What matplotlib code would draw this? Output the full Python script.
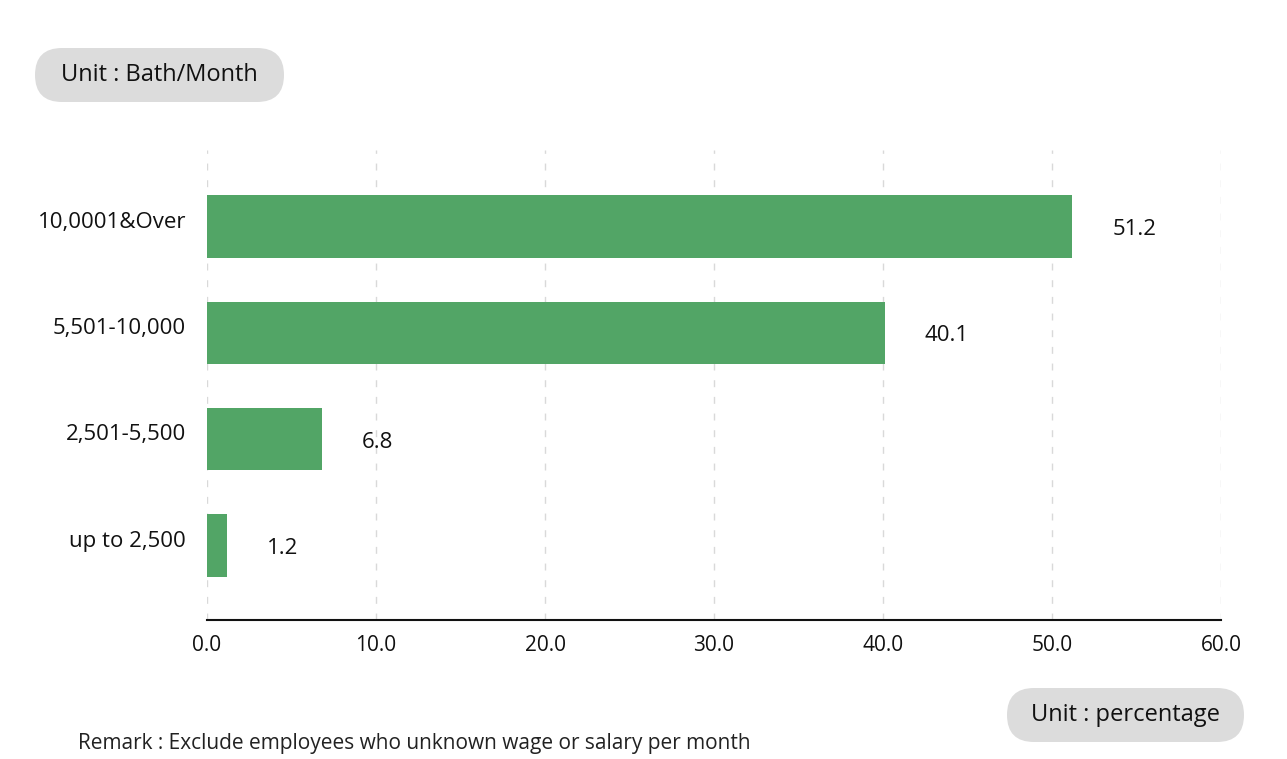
import matplotlib
matplotlib.use("Agg")
import matplotlib.pyplot as plt
import matplotlib.transforms as mtransforms
from matplotlib.patches import FancyBboxPatch

categories = ["up to 2,500", "2,501-5,500", "5,501-10,000", "10,0001&Over"]
values = [1.2, 6.8, 40.1, 51.2]
xticks = [0, 10, 20, 30, 40, 50, 60]
xtick_labels = ["0.0", "10.0", "20.0", "30.0", "40.0", "50.0", "60.0"]

plt.rcParams['font.family'] = ['Open Sans', 'DejaVu Sans']

W, H = 1287, 759
fig = plt.figure(figsize=(W / 100, H / 100), dpi=100)
ax = fig.add_axes([207 / W, 1 - 620 / H, (1221 - 207) / W, (620 - 150) / H])

y = list(range(len(categories)))
ax.barh(y, values, height=0.585, color="#52a566", zorder=3)
ax.set_xlim(0, 60)
ax.set_ylim(-0.70, 3.72)
ax.set_xticks(xticks)
ax.set_xticklabels(xtick_labels, fontsize=15, color="#111111")
ax.set_yticks(y)
ax.set_yticklabels(categories, fontsize=16, color="#111111")
ax.tick_params(axis='both', length=0)
ax.tick_params(axis='x', pad=11)
ax.tick_params(axis='y', pad=15)

# category labels sit slightly above the bar centres in the reference
shift = mtransforms.ScaledTranslation(0, 7 / 100, fig.dpi_scale_trans)
for lbl in ax.get_yticklabels():
    lbl.set_transform(lbl.get_transform() + shift)

for s in ["top", "right", "left"]:
    ax.spines[s].set_visible(False)
ax.spines["bottom"].set_color("#111111")
ax.spines["bottom"].set_linewidth(1.5)

ax.grid(axis='x', linestyle=(0, (5, 7)), color="#d9d9d9", linewidth=1.0, zorder=0)
ax.grid(axis='y', visible=False)

for yi, v in zip(y, values):
    ax.annotate(f"{v:.1f}", xy=(v, yi), xytext=(40, -3), textcoords="offset pixels",
                ha="left", va="center", fontsize=16, color="#111111")

# unit boxes (pixel-based geometry converted to inches)
def pill(x0, y_top, w, h, text):
    p = FancyBboxPatch((x0 / 100, (H - y_top - h) / 100), w / 100, h / 100,
                       boxstyle="round,pad=0,rounding_size=%f" % (h / 200),
                       transform=fig.dpi_scale_trans, facecolor="#dcdcdc", edgecolor="none")
    fig.patches.append(p)
    fig.text((x0 + w / 2) / W, 1 - (y_top + h / 2) / H, text, ha="center", va="center",
             fontsize=17, color="#111111")

pill(35, 48, 249, 54, "Unit : Bath/Month")
pill(1007, 688, 237, 54, "Unit : percentage")

fig.text(78 / W, 1 - 744 / H, "Remark : Exclude employees who unknown wage or salary per month",
         ha="left", va="center", fontsize=15, color="#222222")

fig.savefig("out.png", dpi=100, facecolor="white")
